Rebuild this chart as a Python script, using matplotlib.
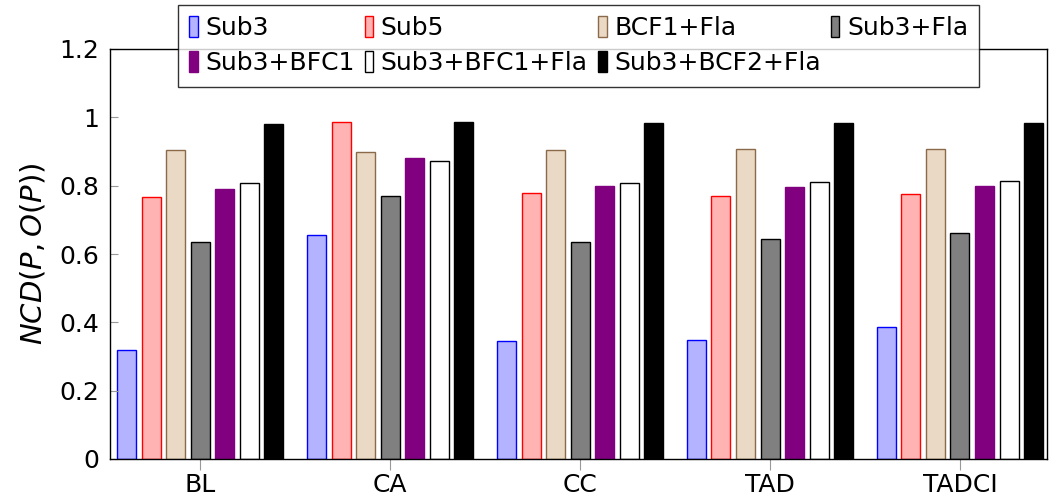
import numpy as np
import matplotlib
matplotlib.use("Agg")
import matplotlib.pyplot as plt

plt.rcParams['font.family'] = ['DejaVu Sans']
plt.rcParams['mathtext.fontset'] = 'dejavusans'

groups = ['BL', 'CA', 'CC', 'TAD', 'TADCI']
series = ['Sub3', 'Sub5', 'BCF1+Fla', 'Sub3+Fla', 'Sub3+BFC1', 'Sub3+BFC1+Fla', 'Sub3+BCF2+Fla']

sub3 = [0.32, 0.655, 0.345, 0.347, 0.385]
sub5 = [0.767, 0.985, 0.78, 0.77, 0.777]
bcf1_fla = [0.905, 0.90, 0.905, 0.906, 0.907]
sub3_fla = [0.635, 0.77, 0.635, 0.645, 0.66]
sub3_bfc1 = [0.79, 0.88, 0.80, 0.795, 0.80]
sub3_bfc1_fla = [0.808, 0.873, 0.808, 0.81, 0.815]
sub3_bcf2_fla = [0.98, 0.985, 0.982, 0.982, 0.982]

values = [sub3, sub5, bcf1_fla, sub3_fla, sub3_bfc1, sub3_bfc1_fla, sub3_bcf2_fla]
fills = [(0.7, 0.7, 1.0), (1.0, 0.7, 0.7), '#ead9c5', '#808080', '#800080', 'white', 'black']
edges = ['blue', 'red', '#8b6a4a', 'black', '#800080', 'black', 'black']

fig = plt.figure(figsize=(10.49, 4.95), dpi=100)
ax = fig.add_axes([110 / 1049, 36 / 495, 937 / 1049, 410 / 495])

x = np.arange(len(groups))
stride = 0.129
width = 0.1
bars = []
for i, (name, vals) in enumerate(zip(series, values)):
    b = ax.bar(x + (i - 3) * stride, vals, width, color=fills[i], edgecolor=edges[i],
               linewidth=1.0, label=name)
    bars.append(b)

ax.set_xlim(-0.474, 4.458)
ax.set_ylim(0, 1.2)
ax.set_yticks([0, 0.2, 0.4, 0.6, 0.8, 1, 1.2])
ax.set_yticklabels(['0', '0.2', '0.4', '0.6', '0.8', '1', '1.2'])
ax.set_xticks(x)
ax.set_xticklabels(groups)
ax.tick_params(axis='y', direction='in', length=6, color='#999999', labelsize=18, pad=8)
ax.tick_params(axis='x', direction='out', length=8, color='#999999', labelsize=18, pad=2)
for s in ax.spines.values():
    s.set_linewidth(1.0)
ax.set_ylabel('$NCD(P, O(P))$', fontsize=21, labelpad=8)

# matplotlib fills legend column by column, so reorder to get row-wise order
order = [0, 4, 1, 5, 2, 6, 3]
leg = ax.legend([bars[k] for k in order], [series[k] for k in order],
                ncol=4, loc='upper center', bbox_to_anchor=(0.5, 1.138),
                fontsize=18, frameon=True, fancybox=False, edgecolor='black',
                handlelength=0.35, handleheight=0.9, handletextpad=0.3,
                columnspacing=0.4, borderpad=0.45, labelspacing=0.45)
leg.get_frame().set_linewidth(1.0)

fig.savefig('out.png', dpi=100)
